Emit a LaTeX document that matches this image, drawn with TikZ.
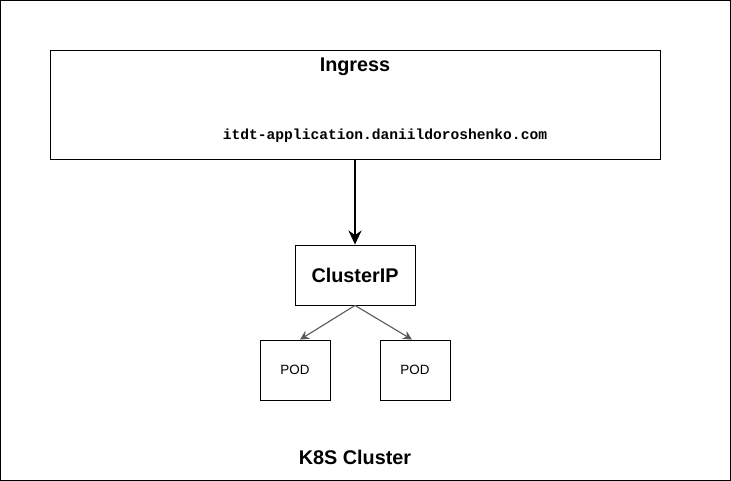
\documentclass[tikz,border=0pt]{standalone}
\usepackage{fontspec}
\setmainfont{Liberation Sans}
\setmonofont{Liberation Mono}
\usepackage{tikz}
\usetikzlibrary{arrows.meta,positioning}
\tikzstyle{frame}=[draw=black,line width=1pt]
\tikzstyle{box}=[draw=black,line width=0.9pt,inner sep=0pt]
\tikzstyle{title}=[font=\fontsize{19.8}{22}\selectfont\bfseries]
\tikzstyle{podbox}=[box,minimum width=70pt,minimum height=60pt,font=\fontsize{13.4}{15}\selectfont]
\tikzstyle{link}=[draw=black!65,line width=1.1pt,-{Stealth[length=9pt,width=9pt]}]

\begin{document}
\begin{tikzpicture}[x=1pt,y=-1pt]
    \useasboundingbox (0,0) rectangle (731,481);
    \draw[frame] (0.5,0.5) rectangle (730.5,480.5);
    \node[box,minimum width=610pt,minimum height=109pt] (ingress) at (355,104.5) {};
    \node[title] (ingtitle) at (355,67) {Ingress};
    \node[font=\fontsize{14.6}{16}\selectfont\ttfamily\bfseries] (host) at (385,136) {itdt-application.daniildoroshenko.com};
    \node[box,title,minimum width=120pt,minimum height=60pt] (cip) at (355,275) {ClusterIP};
    \node[podbox] (pod1) at (295,370) {POD};
    \node[podbox] (pod2) at (415,370) {POD};
    \node[title] (k8s) at (355,457) {K8S Cluster};
    \draw[line width=2.2pt,-{Stealth[length=14pt,width=13pt]}] (ingress.south) -- (cip.north);
    \draw[link] (cip.south) -- ([xshift=5pt]pod1.north);
    \draw[link] (cip.south) -- ([xshift=-3pt]pod2.north);
\end{tikzpicture}
\end{document}
